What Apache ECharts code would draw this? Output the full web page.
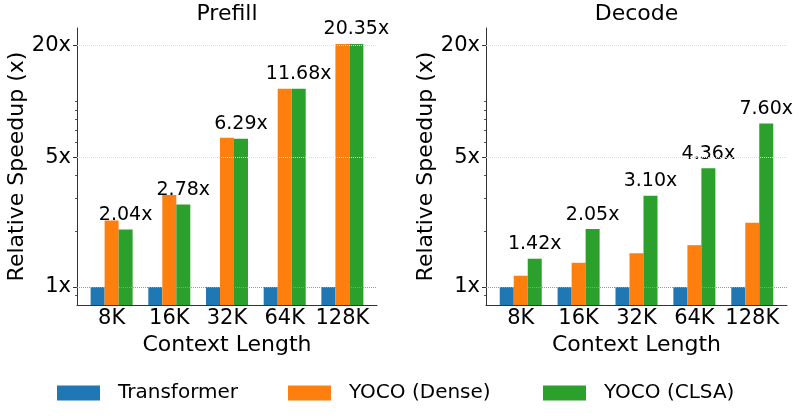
<!DOCTYPE html>
<html>
<head>
<meta charset="utf-8">
<script src="https://cdn.jsdelivr.net/npm/echarts@6/dist/echarts.min.js"></script>
<style>
  html, body { margin: 0; padding: 0; background: #fff; }
  #chart { width: 800px; height: 420px; }
</style>
</head>
<body>
<div id="chart"></div>
<script>
// data
const categories = ['8K', '16K', '32K', '64K', '128K'];
const prefillTransformer = [1, 1, 1, 1, 1];
const prefillDense = [2.28, 3.13, 6.37, 11.68, 20.35];
const prefillClsa = [2.04, 2.78, 6.29, 11.68, 20.35];
const decodeTransformer = [1, 1, 1, 1, 1];
const decodeDense = [1.15, 1.35, 1.52, 1.68, 2.22];
const decodeClsa = [1.42, 2.05, 3.10, 4.36, 7.60];
const majorTicks = [1, 5, 20];
const minorTicks = [0.9, 2, 3, 4, 6, 7, 8, 9, 10];
const seriesNames = ['Transformer', 'YOCO (Dense)', 'YOCO (CLSA)'];
const titles = ['Prefill', 'Decode'];

const FONT = 'DejaVu Sans';
const colors = ['#1f77b4', '#ff7f0e', '#2ca02c'];

const grids = [
  { left: 77, right: 423, top: 28, bottom: 115 },
  { left: 486, right: 13, top: 28, bottom: 115 }
];
const centers = [227, 636.5];

const chart = echarts.init(document.getElementById('chart'));

const xAxes = grids.map((g, i) => ({
  type: 'value',
  gridIndex: i,
  min: -0.6,
  max: 4.6,
  name: 'Context Length',
  nameLocation: 'middle',
  nameGap: 27,
  nameTextStyle: { fontFamily: FONT, fontSize: 22, color: '#000' },
  axisLine: { show: true, onZero: false, lineStyle: { color: '#333', width: 1 } },
  axisTick: { show: false },
  splitLine: { show: false },
  axisLabel: {
    customValues: categories.map((c, k) => k),
    formatter: v => categories[Math.round(v)],
    fontFamily: FONT, fontSize: 21, color: '#000', margin: 3
  }
}));

const yAxes = [];
grids.forEach((g, i) => {
  yAxes.push({
    type: 'log',
    gridIndex: i,
    min: 0.8,
    max: 24.8,
    startValue: 0.8,
    position: 'left',
    name: 'Relative Speedup (x)',
    nameLocation: 'middle',
    nameGap: 49,
    nameTextStyle: { fontFamily: FONT, fontSize: 22, color: '#000' },
    axisLine: { show: true, onZero: false, lineStyle: { color: '#333', width: 1 } },
    axisTick: { show: true, customValues: majorTicks, length: 4, lineStyle: { color: '#333' } },
    splitLine: { show: false },
    axisLabel: {
      customValues: majorTicks,
      formatter: v => v + 'x',
      fontFamily: FONT, fontSize: 21, color: '#000', margin: 6
    }
  });
  // minor ticks
  yAxes.push({
    type: 'log',
    gridIndex: i,
    min: 0.8,
    max: 24.8,
    position: 'left',
    offset: 0,
    axisLine: { show: false, onZero: false },
    axisTick: { show: true, customValues: minorTicks, length: 2, lineStyle: { color: '#555' } },
    axisLabel: { show: false },
    splitLine: { show: false }
  });
});

const panels = [
  [prefillTransformer, prefillDense, prefillClsa],
  [decodeTransformer, decodeDense, decodeClsa]
];

const series = [];
panels.forEach((vals, p) => {
  vals.forEach((arr, s) => {
    const item = {
      type: 'bar',
      name: seriesNames[s],
      xAxisIndex: p,
      yAxisIndex: p * 2,
      barWidth: 14,
      barGap: '0%',
      itemStyle: { color: colors[s] },
      data: arr.map((v, k) => [k, v]),
      animation: false
    };
    if (s === 2) {
      item.label = {
        show: true,
        position: 'top',
        distance: 5,
        formatter: prm => prm.value[1].toFixed(2) + 'x',
        fontFamily: FONT, fontSize: 19, color: '#000'
      };
    }
    if (s === 0) {
      item.markLine = {
        silent: true,
        symbol: ['none', 'none'],
        label: { show: false },
        animation: false,
        data: majorTicks.map(t => ({
          yAxis: t,
          lineStyle: { type: 'dotted', width: 1, color: t === 1 ? '#999' : '#ddd' }
        }))
      };
    }
    series.push(item);
  });
});

chart.setOption({
  backgroundColor: '#fff',
  animation: false,
  textStyle: { fontFamily: FONT },
  title: titles.map((t, i) => ({
    text: t,
    left: centers[i],
    top: 3,
    padding: 0,
    textAlign: 'center',
    textStyle: { fontFamily: FONT, fontSize: 22, fontWeight: 'normal', color: '#000' }
  })),
  legend: seriesNames.map((n, i) => ({
    data: [n],
    left: [57, 288, 543][i],
    top: 383,
    padding: 0,
    icon: 'rect',
    itemWidth: 43,
    itemHeight: 15,
    textStyle: { fontFamily: FONT, fontSize: 20, color: '#000', padding: [0, 0, 0, 13] }
  })),
  grid: grids,
  xAxis: xAxes,
  yAxis: yAxes,
  series: series
});
</script>
</body>
</html>
